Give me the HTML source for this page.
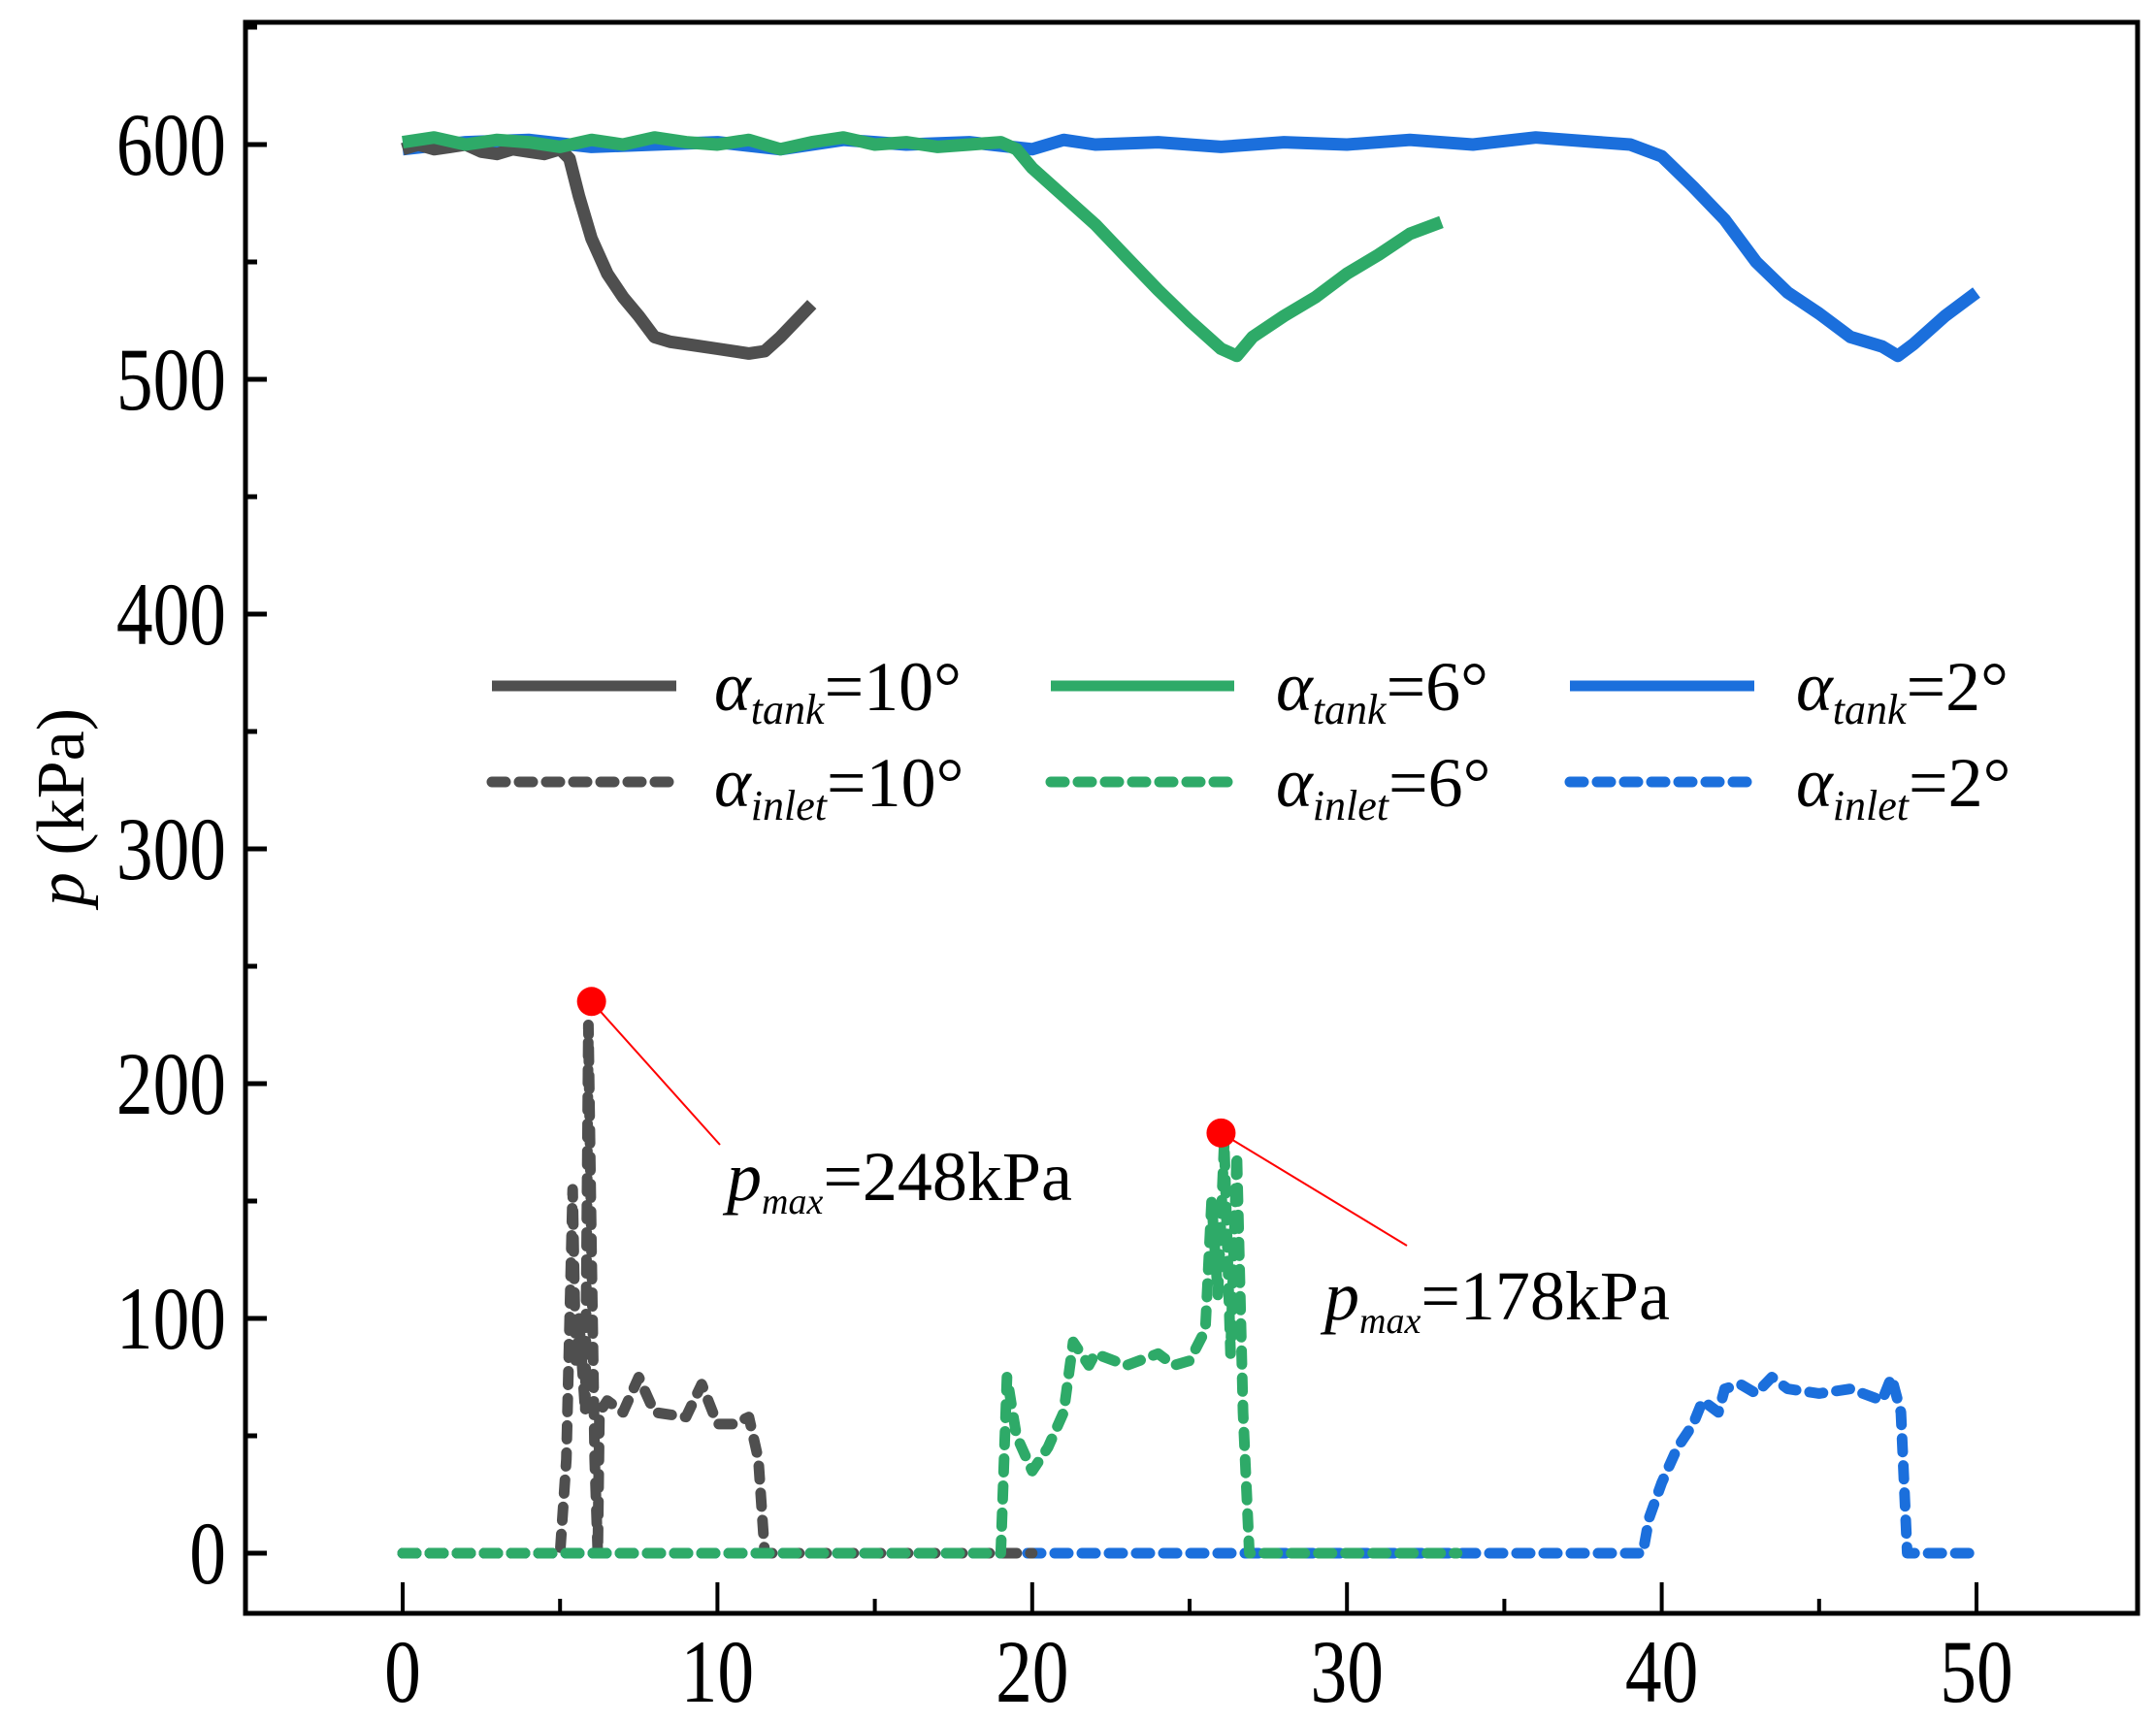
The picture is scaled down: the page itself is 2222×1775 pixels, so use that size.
<!DOCTYPE html>
<html><head><meta charset="utf-8"><style>
html,body{margin:0;padding:0;background:#fff;}
svg{display:block;}
text{font-family:"Liberation Serif",serif;fill:#000;}
</style></head><body>
<svg id="chart" width="2222" height="1775" viewBox="0 0 2222 1775" xmlns="http://www.w3.org/2000/svg"></svg>
<script>
// ---- data ----
const xTicks = [0,10,20,30,40,50];
const yTicks = [0,100,200,300,400,500,600];
const tank10T = [0,0.5,1,1.5,2,2.5,3,3.5,4,4.5,5,5.3,5.6,6,6.5,7,7.5,8,8.5,9,10,11,11.5,12,12.5,13];
const tank10P = [598,600,598,599,600,597,596,598,597,596,598,594,578,560,545,535,527,518,516,515,513,511,512,518,525,532];
const tank6T = [0,1,2,3,4,5,6,7,8,9,10,11,12,13,14,15,16,17,18,19,19.5,20,21,22,23,24,25,26,26.5,27,28,29,30,31,32,33];
const tank6P = [601,603,600,602,601,599,602,600,603,601,600,602,598,601,603,600,601,599,600,601,598,590,578,566,552,538,525,513,510,518,527,535,545,553,562,567];
const tank2T = [0,2,4,6,8,10,12,14,16,18,20,21,22,24,26,28,30,32,34,36,38,39,40,41,42,43,44,45,46,47,47.5,48,49,50];
const tank2P = [598,601,602,599,600,601,598,602,600,601,598,602,600,601,599,601,600,602,600,603,601,600,595,582,568,550,537,528,518,514,510,515,527,537];
const inlet10T = [0,5.0,5.2,5.4,5.5,5.6,5.8,5.9,6.0,6.1,6.2,6.25,6.5,7,7.5,8,9,9.5,10,10.5,11,11.3,11.5,12,20];
const inlet10P = [0,0,40,155,80,100,60,225,130,40,0,60,65,60,75,60,58,72,55,55,58,40,0,0,0];
const inlet6T = [0,10,19.0,19.2,19.5,20,20.5,21,21.3,21.8,22,23,24,24.5,25,25.5,25.7,25.9,26.1,26.3,26.5,26.7,26.9,30,33.5];
const inlet6P = [0,0,0,75,50,35,45,60,90,80,85,80,85,80,82,95,150,110,175,85,170,60,0,0,0];
const inlet2T = [0,20,39.4,39.6,40,40.5,41,41.3,41.8,42,42.5,43,43.5,44,45,46,47,47.3,47.6,47.8,50];
const inlet2P = [0,0,0,15,30,45,55,65,60,70,72,68,75,70,68,70,65,75,60,0,0];
const peakT = [6,26];
const peakP = [235,179];
const peakLabels = ['248kPa','178kPa'];

// ---- axes ----
const X0=415,X1=2037,Y0=1601,Y600=149;
const sx=v=>X0+(X1-X0)*v/50;
const sy=v=>Y0+(Y600-Y0)*v/600;
const NS='http://www.w3.org/2000/svg';
const svg=document.getElementById('chart');
function mk(tag,attrs,parent){const e=document.createElementNS(NS,tag);for(const k in attrs)e.setAttribute(k,attrs[k]);(parent||svg).appendChild(e);return e;}

const frame=mk('rect',{x:253,y:23,width:1950,height:1640,fill:'none',stroke:'#000','stroke-width':5});



for(let v=0;v<=650;v+=50){
  const major=v%100===0;
  const t=mk('line',{x1:253,x2:253+(major?22:12),y1:sy(v),y2:sy(v),stroke:'#000','stroke-width':5});
  
  
}
yTicks.forEach(v=>{
  const t=mk('text',{x:233,y:sy(v)+31,'text-anchor':'end','font-size':92,transform:`translate(233,0) scale(0.82,1) translate(-233,0)`});
  t.textContent=v;
  
  
});
for(let v=0;v<=50;v+=5){
  const major=v%10===0;
  const t=mk('line',{x1:sx(v),x2:sx(v),y1:1663,y2:1663-(major?32:15),stroke:'#000','stroke-width':4});
  
  
}
xTicks.forEach(v=>{
  const cx=sx(v);
  const t=mk('text',{x:cx,y:1754,'text-anchor':'middle','font-size':92,transform:`translate(${cx},0) scale(0.82,1) translate(${-cx},0)`});
  t.textContent=v;
  
  
});
const yt=mk('text',{x:0,y:0,'text-anchor':'middle','font-size':70,transform:'translate(86,832) rotate(-90)'});
yt.innerHTML='<tspan font-style="italic">p</tspan> (kPa)';



const GRAY='#4f4f4f',GREEN='#2eaa68',BLUE='#1b6fdc';
function series(T,P,color,dashed,name){
  const d=T.map((t,i)=>(i?'L':'M')+sx(t).toFixed(1)+','+sy(P[i]).toFixed(1)).join('');
  const p=mk('path',{d:d,fill:'none',stroke:color,'stroke-width':dashed?11:13,'stroke-linejoin':'round','stroke-linecap':dashed?'round':'butt'});
  if(dashed)p.setAttribute('stroke-dasharray','14 14');
  
  
}
series(tank2T,tank2P,BLUE,false,'tank-2deg-line');
series(tank10T,tank10P,GRAY,false,'tank-10deg-line');
series(tank6T,tank6P,GREEN,false,'tank-6deg-line');
series(inlet2T,inlet2P,BLUE,true,'inlet-2deg-line');
series(inlet10T,inlet10P,GRAY,true,'inlet-10deg-line');
series(inlet6T,inlet6P,GREEN,true,'inlet-6deg-line');

const lineEnd=[[742,1180],[1450,1284]];
const textPos=[[749,1237],[1365,1360]];
peakT.forEach((t,i)=>{
  const cx=sx(t),cy=sy(peakP[i]);
  const l=mk('line',{x1:cx,y1:cy,x2:lineEnd[i][0],y2:lineEnd[i][1],stroke:'#f00','stroke-width':2});
  
  
  const c=mk('circle',{cx:cx,cy:cy,r:15,fill:'#f00'});
  
  
  const tx=mk('text',{x:textPos[i][0],y:textPos[i][1],'font-size':72});
  tx.innerHTML='<tspan font-style="italic">p</tspan><tspan font-style="italic" font-size="38" dy="14">max</tspan><tspan dy="-14">='+peakLabels[i]+'</tspan>';
  
  
});

const legCols=[[507,697,736,GRAY,'10'],[1083,1272,1315,GREEN,'6'],[1618,1808,1851,BLUE,'2']];
legCols.forEach(c=>{
  [['tank',707,false],['inlet',806,true]].forEach(r=>{
    const l=mk('line',{x1:c[0],x2:c[1],y1:r[1],y2:r[1],stroke:c[3],'stroke-width':11,'stroke-linecap':r[2]?'round':'butt'});
    if(r[2])l.setAttribute('stroke-dasharray','14 14');
    
    
    const t=mk('text',{x:c[2],y:r[1]+25,'font-size':72});
    t.innerHTML='<tspan font-style="italic">α</tspan><tspan font-style="italic" font-size="44" dy="14">'+r[0]+'</tspan><tspan dy="-14">='+c[4]+'°</tspan>';
    
    
  });
});
</script>
</body></html>
